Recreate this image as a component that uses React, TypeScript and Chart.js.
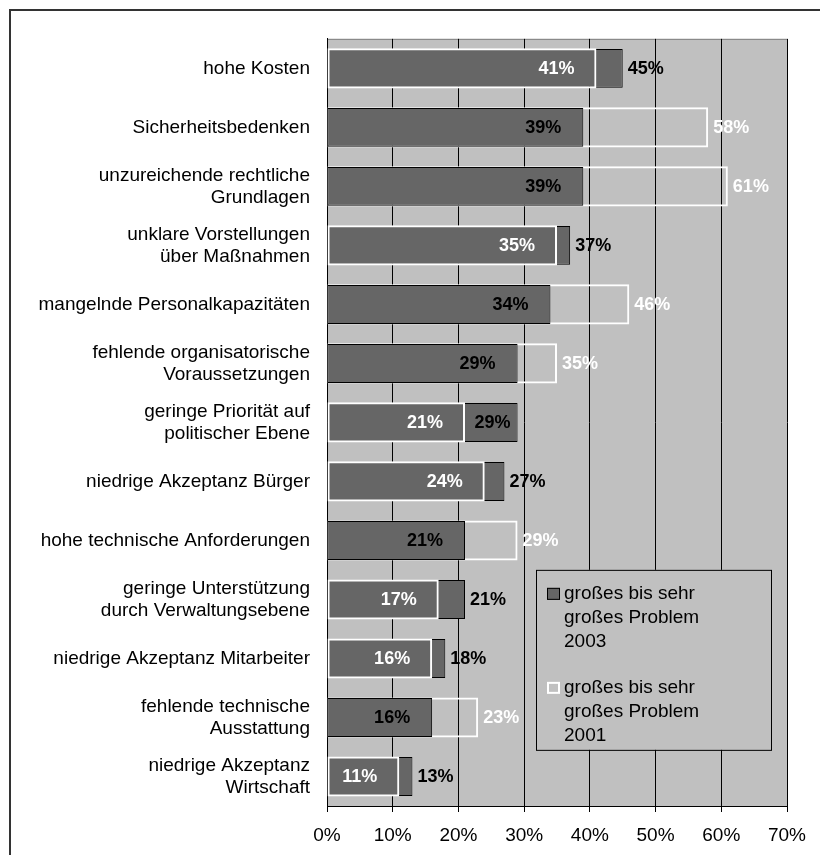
import React, { useEffect, useRef } from "react";
import { Chart, registerables } from "chart.js";

Chart.register(...registerables);

const categories: string[][] = [
  ["hohe Kosten"],
  ["Sicherheitsbedenken"],
  ["unzureichende rechtliche", "Grundlagen"],
  ["unklare Vorstellungen", "über Maßnahmen"],
  ["mangelnde Personalkapazitäten"],
  ["fehlende organisatorische", "Voraussetzungen"],
  ["geringe Priorität auf", "politischer Ebene"],
  ["niedrige Akzeptanz Bürger"],
  ["hohe technische Anforderungen"],
  ["geringe Unterstützung", "durch Verwaltungsebene"],
  ["niedrige Akzeptanz Mitarbeiter"],
  ["fehlende technische", "Ausstattung"],
  ["niedrige Akzeptanz", "Wirtschaft"],
];

const values2003: number[] = [45, 39, 39, 37, 34, 29, 29, 27, 21, 21, 18, 16, 13];
const values2001: number[] = [41, 58, 61, 35, 46, 35, 21, 24, 29, 17, 16, 23, 11];

const xMin = 0;
const xMax = 70;
const xStep = 10;

const legend2003: string[] = ["großes bis sehr", "großes Problem", "2003"];
const legend2001: string[] = ["großes bis sehr", "großes Problem", "2001"];

const FONT = '"Liberation Sans", Arial, sans-serif';
const DARK = "#666666";
const PLOT_BG = "#c0c0c0";

export default function App() {
  const canvasRef = useRef<HTMLCanvasElement | null>(null);

  useEffect(() => {
    const canvas = canvasRef.current;
    if (!canvas) return;

    const back2001 = values2001.map((v, i) => (v > values2003[i] ? v : null));
    const front2001 = values2001.map((v, i) => (v <= values2003[i] ? v : null));

    const backgroundPlugin = {
      id: "bgPlugin",
      beforeDraw(chart: any) {
        const { ctx, chartArea: ca, width, height } = chart;
        ctx.save();
        ctx.fillStyle = "#ffffff";
        ctx.fillRect(0, 0, width, height);
        ctx.strokeStyle = "#333333";
        ctx.lineWidth = 2;
        ctx.strokeRect(2, 2, width + 20, height + 20);
        ctx.fillStyle = PLOT_BG;
        ctx.fillRect(ca.left, ca.top, ca.right - ca.left, ca.bottom - ca.top);
        ctx.strokeStyle = "#808080";
        ctx.lineWidth = 1;
        ctx.beginPath();
        ctx.moveTo(ca.left, ca.top + 0.5);
        ctx.lineTo(ca.right, ca.top + 0.5);
        ctx.stroke();
        ctx.restore();
      },
    };

    const labelPlugin = {
      id: "labelPlugin",
      afterDatasetsDraw(chart: any) {
        const { ctx } = chart;
        const xs = chart.scales.x;
        const ys = chart.scales.y;
        ctx.save();
        ctx.font = `bold 18px ${FONT}`;
        ctx.textBaseline = "middle";
        values2003.forEach((a, i) => {
          const b = values2001[i];
          const y = ys.getPixelForValue(i) + 1;
          const xa = xs.getPixelForValue(a);
          const xb = xs.getPixelForValue(b);
          const ta = `${a}%`;
          const tb = `${b}%`;
          const wa = ctx.measureText(ta).width;
          // 2003 label (black)
          ctx.fillStyle = "#000000";
          if (a > b) {
            if (xa - xb > wa + 12) {
              ctx.textAlign = "right";
              ctx.fillText(ta, xa - 7, y);
            } else {
              ctx.textAlign = "left";
              ctx.fillText(ta, xa + 5, y);
            }
          } else {
            ctx.textAlign = "right";
            ctx.fillText(ta, xa - 22, y);
          }
          // 2001 label (white)
          ctx.fillStyle = "#ffffff";
          if (b > a) {
            ctx.textAlign = "left";
            ctx.fillText(tb, xb + 5, y);
          } else {
            ctx.textAlign = "right";
            ctx.fillText(tb, xb - 22, y);
          }
        });
        ctx.restore();
      },
      afterDraw(chart: any) {
        const { ctx, chartArea: ca } = chart;
        const x0 = ca.left + 209;
        const y0 = ca.top + 531;
        const w = 235;
        const h = 180;
        ctx.save();
        ctx.fillStyle = PLOT_BG;
        ctx.fillRect(x0, y0, w, h);
        ctx.strokeStyle = "#000000";
        ctx.lineWidth = 1;
        ctx.strokeRect(x0 + 0.5, y0 + 0.5, w, h);

        // item 2003
        ctx.fillStyle = DARK;
        ctx.fillRect(x0 + 11, y0 + 18, 13, 12);
        ctx.strokeStyle = "#000000";
        ctx.strokeRect(x0 + 11.5, y0 + 18.5, 12, 11);
        // item 2001
        ctx.fillStyle = PLOT_BG;
        ctx.fillRect(x0 + 11, y0 + 112, 13, 12);
        ctx.strokeStyle = "#ffffff";
        ctx.lineWidth = 2;
        ctx.strokeRect(x0 + 12, y0 + 113, 11, 10);

        ctx.fillStyle = "#000000";
        ctx.font = `19px ${FONT}`;
        ctx.textAlign = "left";
        ctx.textBaseline = "middle";
        const lh = 24;
        legend2003.forEach((t, k) => ctx.fillText(t, x0 + 28, y0 + 24 + k * lh));
        legend2001.forEach((t, k) => ctx.fillText(t, x0 + 28, y0 + 118 + k * lh));
        ctx.restore();
      },
    };

    const chart = new Chart(canvas, {
      type: "bar",
      data: {
        labels: categories,
        datasets: [
          {
            label: "2001 (hinten)",
            data: back2001,
            backgroundColor: "rgba(0,0,0,0)",
            borderColor: "#ffffff",
            borderWidth: 2,
            borderSkipped: false,
            grouped: false,
            order: 2,
            categoryPercentage: 1,
            barPercentage: 0.68,
          } as any,
          {
            label: "2003",
            data: values2003,
            backgroundColor: DARK,
            borderColor: "#000000",
            borderWidth: 1,
            borderSkipped: false,
            grouped: false,
            order: 1,
            categoryPercentage: 1,
            barPercentage: 0.66,
          } as any,
          {
            label: "2001 (vorne)",
            data: front2001,
            backgroundColor: "rgba(0,0,0,0)",
            borderColor: "#ffffff",
            borderWidth: 2,
            borderSkipped: false,
            grouped: false,
            order: 0,
            categoryPercentage: 1,
            barPercentage: 0.68,
          } as any,
        ],
      },
      options: {
        indexAxis: "y",
        responsive: false,
        animation: false,
        maintainAspectRatio: false,
        layout: { padding: { left: 0, top: 16, right: 33, bottom: 4 } },
        plugins: {
          legend: { display: false },
          tooltip: { enabled: false },
        },
        scales: {
          x: {
            type: "linear",
            min: xMin,
            max: xMax,
            afterFit: (s: any) => {
              s.height = 45;
            },
            ticks: {
              stepSize: xStep,
              callback: (v: any) => `${v}%`,
              color: "#000000",
              font: { family: FONT, size: 19 },
              padding: 12,
            },
            grid: {
              color: "#000000",
              lineWidth: 1,
              drawOnChartArea: true,
              drawTicks: true,
              tickLength: 6,
              tickColor: "#000000",
            },
            border: { display: true, color: "#000000", width: 1 },
          },
          y: {
            type: "category",
            afterFit: (s: any) => {
              s.width = 319;
            },
            ticks: {
              color: "#000000",
              font: { family: FONT, size: 19, lineHeight: 1.15 },
              padding: 9,
              autoSkip: false,
            },
            grid: { display: false },
            border: { display: true, color: "#000000", width: 1 },
          },
        },
      } as any,
      plugins: [backgroundPlugin, labelPlugin],
    });

    return () => {
      chart.destroy();
    };
  }, []);

  return (
    <div style={{ width: 812, height: 847 }}>
      <canvas ref={canvasRef} width={812} height={847} style={{ display: "block" }} />
    </div>
  );
}
